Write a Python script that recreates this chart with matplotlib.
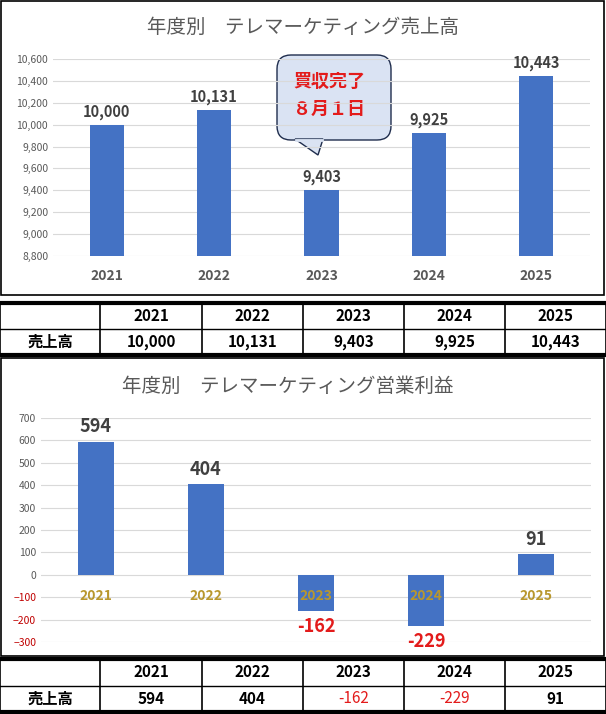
import matplotlib.pyplot as plt
import matplotlib.patches as patches
from matplotlib.ticker import FuncFormatter

plt.rcParams['font.family'] = ['Noto Sans CJK JP', 'DejaVu Sans']

years = ['2021', '2022', '2023', '2024', '2025']
sales = [10000, 10131, 9403, 9925, 10443]
profit = [594, 404, -162, -229, 91]
row_label = '売上高'
title_sales = '年度別　テレマーケティング売上高'
title_profit = '年度別　テレマーケティング営業利益'
note = '買収完了\n８月１日'

W, H = 606, 714
fig = plt.figure(figsize=(W / 100, H / 100), dpi=100)
fig.patch.set_facecolor('white')

# pixel-coordinate overlay for frames and tables
bg = fig.add_axes([0, 0, 1, 1], zorder=0)
bg.set_xlim(0, W)
bg.set_ylim(H, 0)
bg.axis('off')

def px_axes(x0, y0, x1, y1):
    return fig.add_axes([x0 / W, 1 - y1 / H, (x1 - x0) / W, (y1 - y0) / H], zorder=2)

bar_color = '#4472c4'
grid_color = '#d9d9d9'
tick_color = '#595959'

# frames
bg.add_patch(patches.Rectangle((1, 1), W - 3, 294, fill=False, lw=1.2, ec='black'))
bg.add_patch(patches.Rectangle((1, 358), W - 3, 298, fill=False, lw=1.2, ec='black'))

# ---- top chart ----
ax1 = px_axes(53, 59, 590, 256)
ax1.patch.set_alpha(0)
x = range(len(years))
ax1.bar(x, sales, width=0.32, color=bar_color, zorder=3)
ax1.set_ylim(8800, 10600)
ax1.set_xlim(-0.5, 4.5)
ax1.set_yticks(range(8800, 10601, 200))
ax1.yaxis.set_major_formatter(FuncFormatter(lambda v, p: f'{int(v):,}'))
ax1.set_xticks(list(x))
ax1.set_xticklabels(years, fontsize=10, fontweight='bold', color=tick_color)
ax1.tick_params(axis='y', labelsize=7.5, labelcolor=tick_color, length=0)
ax1.tick_params(axis='x', length=0, pad=9)
ax1.grid(axis='y', color=grid_color, lw=0.8, zorder=0)
for s in ax1.spines.values():
    s.set_visible(False)
for i, v in enumerate(sales):
    ax1.text(i, v + 45, f'{v:,}', ha='center', va='bottom', fontsize=10.5,
             fontweight='bold', color='#404040', clip_on=False)
fig.text(303 / W, 1 - 27 / H, title_sales, ha='center', va='center', fontsize=14, color=tick_color)

# callout
bg.add_patch(patches.FancyBboxPatch((277, 55), 114, 85, boxstyle='round,pad=0,rounding_size=14',
                                    fc='#dae3f3', ec='#1f2d4d', lw=1, zorder=3))
bg.add_patch(patches.Polygon([(295, 139), (323, 139), (318, 155)], closed=True,
                             fc='#dae3f3', ec='#1f2d4d', lw=1, zorder=3))
bg.plot([296, 322], [139.5, 139.5], color='#dae3f3', lw=2, zorder=4)
bg.text(329, 95, note, ha='center', va='center', fontsize=13, fontweight='bold',
        color='#e31b1b', linespacing=1.6, zorder=5)

# ---- bottom chart ----
ax2 = px_axes(41, 418, 591, 642)
ax2.patch.set_alpha(0)
ax2.bar(x, profit, width=0.32, color=bar_color, zorder=3)
ax2.set_ylim(-300, 700)
ax2.set_xlim(-0.5, 4.5)
ax2.set_yticks(range(-300, 701, 100))
ax2.tick_params(axis='y', labelsize=7.5, length=0)
for t, v in zip(ax2.get_yticklabels(), range(-300, 701, 100)):
    t.set_color('#c00000' if v < 0 else tick_color)
ax2.set_xticks([])
ax2.grid(axis='y', color=grid_color, lw=0.8, zorder=0)
for s in ax2.spines.values():
    s.set_visible(False)
for i, (yr, v) in enumerate(zip(years, profit)):
    ax2.text(i, -95, yr, ha='center', va='center', fontsize=10, fontweight='bold',
             color='#b8972e', zorder=4)
    if v >= 0:
        ax2.text(i, v + 25, f'{v}', ha='center', va='bottom', fontsize=13,
                 fontweight='bold', color='#404040', clip_on=False)
    else:
        ax2.text(i, v - 25, f'{v}', ha='center', va='top', fontsize=13,
                 fontweight='bold', color='#e31b1b', clip_on=False)
fig.text(288 / W, 1 - 386 / H, title_profit, ha='center', va='center', fontsize=14, color=tick_color)

# ---- tables ----
col_x = [0, 100, 202, 303, 404, 505, 606]

def draw_table(y0, y1, values, neg_red):
    ym = (y0 + y1) / 2
    bg.plot([0, W], [y0, y0], color='black', lw=3)
    bg.plot([0, W], [y1, y1], color='black', lw=3)
    bg.plot([0, W], [ym, ym], color='black', lw=1)
    for cx in col_x:
        bg.plot([cx, cx], [y0, y1], color='black', lw=1.2)
    bg.text(col_x[0] + 50, (ym + y1) / 2, row_label, ha='center', va='center', fontsize=11, fontweight='bold')
    for i, (yr, v) in enumerate(zip(years, values)):
        cx = (col_x[i + 1] + col_x[i + 2]) / 2
        bg.text(cx, (y0 + ym) / 2, yr, ha='center', va='center', fontsize=11, fontweight='bold')
        c = '#e31b1b' if (neg_red and v < 0) else 'black'
        bg.text(cx, (ym + y1) / 2, f'{v:,}', ha='center', va='center', fontsize=11,
                fontweight='bold' if c == 'black' else 'normal', color=c)

draw_table(303, 355, sales, False)
draw_table(659, 712, profit, True)

fig.savefig('out.png', dpi=100)
